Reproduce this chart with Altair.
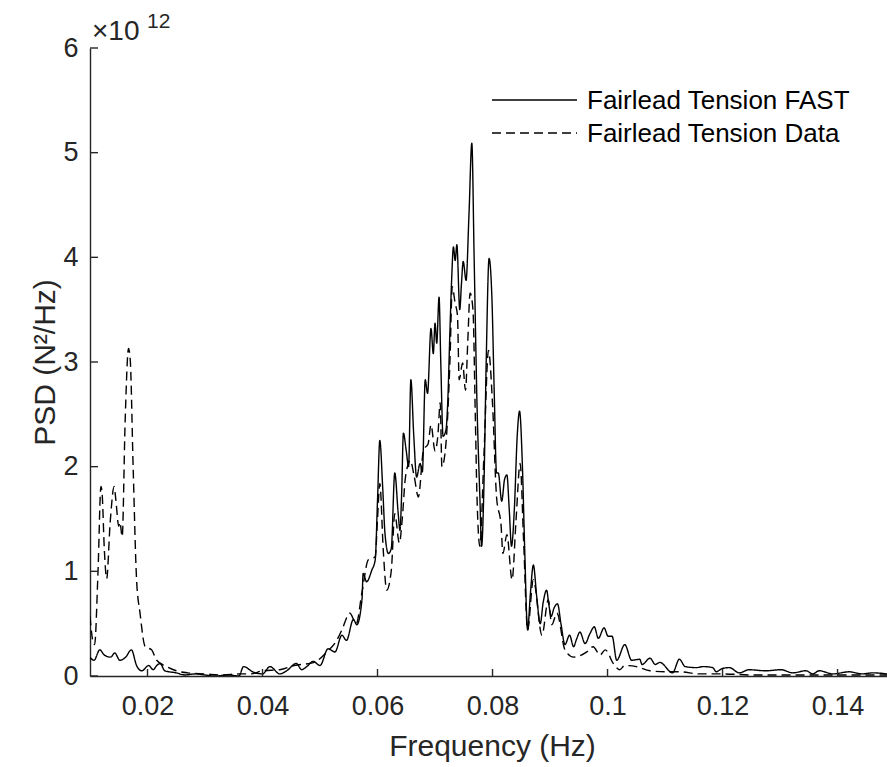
import altair as alt
import pandas as pd

# ---- data (PSD values in units of 1e12 N^2/Hz) ----
fast_f = [0.0100, 0.0107, 0.0117, 0.0125, 0.0136, 0.0143, 0.0152, 0.0162, 0.0172, 0.0181,
          0.0190, 0.0202, 0.0210, 0.0216, 0.0222, 0.0230, 0.0250, 0.0265, 0.0283, 0.0300,
          0.0318, 0.0340, 0.0359, 0.0367, 0.0383, 0.0400, 0.0413, 0.0430, 0.0442, 0.0459,
          0.0468, 0.0477, 0.0488, 0.0500, 0.0514, 0.0526, 0.0538, 0.0546, 0.0558, 0.0564,
          0.0573, 0.0575, 0.0581, 0.0590, 0.0596, 0.0600, 0.0604, 0.0609, 0.0613, 0.0619,
          0.0624, 0.0630, 0.0636, 0.0639, 0.0642, 0.0645, 0.0650, 0.0654, 0.0658, 0.0663,
          0.0668, 0.0674, 0.0678, 0.0683, 0.0687, 0.0693, 0.0697, 0.0700, 0.0703, 0.0707,
          0.0710, 0.0714, 0.0719, 0.0722, 0.0726, 0.0729, 0.0732, 0.0735, 0.0738, 0.0743,
          0.0746, 0.0749, 0.0754, 0.0759, 0.0764, 0.0768, 0.0773, 0.0778, 0.0781, 0.0785,
          0.0789, 0.0794, 0.0799, 0.0803, 0.0807, 0.0810, 0.0816, 0.0821, 0.0825, 0.0829,
          0.0833, 0.0838, 0.0843, 0.0847, 0.0852, 0.0856, 0.0861, 0.0866, 0.0871, 0.0877,
          0.0883, 0.0888, 0.0894, 0.0898, 0.0902, 0.0907, 0.0913, 0.0919, 0.0926, 0.0934,
          0.0941, 0.0946, 0.0952, 0.0961, 0.0969, 0.0977, 0.0984, 0.0994, 0.1001, 0.1008,
          0.1016, 0.1030, 0.1042, 0.1056, 0.1060, 0.1074, 0.1083, 0.1091, 0.1113, 0.1125,
          0.1135, 0.1155, 0.1166, 0.1183, 0.1189, 0.1199, 0.1212, 0.1229, 0.1246, 0.1275,
          0.1302, 0.1322, 0.1345, 0.1357, 0.1368, 0.1392, 0.1420, 0.1443, 0.1461, 0.1486]
fast_v = [0.18, 0.15, 0.25, 0.20, 0.18, 0.22, 0.15, 0.18, 0.25, 0.10,
          0.05, 0.10, 0.06, 0.10, 0.12, 0.05, 0.03, 0.01, 0.02, 0.01,
          0.00, 0.01, 0.00, 0.09, 0.04, 0.02, 0.09, 0.02, 0.05, 0.12,
          0.06, 0.09, 0.14, 0.10, 0.26, 0.23, 0.39, 0.34, 0.54, 0.49,
          0.73, 0.98, 0.90, 1.01, 1.11, 1.68, 2.25, 1.80, 1.36, 1.17,
          1.22, 1.94, 1.55, 1.39, 1.75, 2.32, 2.15, 2.00, 2.83, 2.30,
          1.90, 2.03, 1.95, 2.83, 2.70, 3.32, 3.08, 3.37, 3.18, 3.62,
          3.00, 2.29, 2.35, 2.60, 3.31, 3.80, 4.10, 3.97, 4.12, 3.50,
          3.75, 3.96, 3.78, 4.40, 5.09, 4.00, 2.60, 1.71, 1.24, 1.80,
          3.00, 3.99, 3.60, 2.70, 1.94, 1.94, 1.67, 1.88, 1.92, 1.60,
          1.24, 1.60, 2.30, 2.53, 2.00, 1.20, 0.44, 0.80, 1.06, 0.75,
          0.50, 0.70, 0.82, 0.68, 0.57, 0.65, 0.69, 0.50, 0.30, 0.39,
          0.28, 0.35, 0.42, 0.31, 0.40, 0.47, 0.36, 0.46, 0.38, 0.38,
          0.15, 0.30, 0.15, 0.16, 0.11, 0.17, 0.11, 0.13, 0.03, 0.16,
          0.09, 0.08, 0.09, 0.08, 0.04, 0.07, 0.08, 0.03, 0.06, 0.05,
          0.06, 0.03, 0.05, 0.02, 0.05, 0.02, 0.04, 0.02, 0.03, 0.02]

data_f = [0.0100, 0.0106, 0.0108, 0.0114, 0.0119, 0.0121, 0.0125, 0.0129, 0.0135, 0.0142,
          0.0145, 0.0150, 0.0152, 0.0156, 0.0161, 0.0167, 0.0170, 0.0175, 0.0181, 0.0187,
          0.0196, 0.0207, 0.0216, 0.0233, 0.0250, 0.0270, 0.0300, 0.0330, 0.0360, 0.0380,
          0.0400, 0.0430, 0.0455, 0.0490, 0.0510, 0.0529, 0.0538, 0.0552, 0.0563, 0.0573,
          0.0584, 0.0596, 0.0600, 0.0604, 0.0610, 0.0616, 0.0624, 0.0630, 0.0638, 0.0643,
          0.0648, 0.0652, 0.0657, 0.0664, 0.0671, 0.0680, 0.0688, 0.0693, 0.0700, 0.0705,
          0.0709, 0.0712, 0.0719, 0.0726, 0.0730, 0.0735, 0.0739, 0.0742, 0.0748, 0.0753,
          0.0757, 0.0761, 0.0766, 0.0770, 0.0773, 0.0778, 0.0785, 0.0793, 0.0800, 0.0807,
          0.0815, 0.0818, 0.0825, 0.0834, 0.0841, 0.0848, 0.0854, 0.0861, 0.0871, 0.0886,
          0.0897, 0.0903, 0.0912, 0.0926, 0.0941, 0.0964, 0.0975, 0.0987, 0.0996, 0.1010,
          0.1021, 0.1030, 0.1050, 0.1074, 0.1103, 0.1125, 0.1160, 0.1200, 0.1250, 0.1300,
          0.1350, 0.1400, 0.1486]
data_v = [0.57, 0.31, 0.30, 1.01, 1.81, 1.75, 1.20, 0.93, 1.46, 1.81,
          1.68, 1.43, 1.47, 1.33, 2.41, 3.13, 3.02, 2.00, 0.92, 0.60,
          0.28, 0.25, 0.15, 0.09, 0.05, 0.03, 0.02, 0.01, 0.02, 0.02,
          0.05, 0.06, 0.10, 0.13, 0.22, 0.34, 0.44, 0.60, 0.50, 0.80,
          1.11, 1.14, 1.50, 1.84, 1.20, 0.82, 1.01, 1.55, 1.27, 1.50,
          1.87, 2.00, 2.06, 1.90, 1.71, 2.16, 2.22, 2.40, 2.15, 2.30,
          2.61, 2.00, 2.22, 3.02, 3.72, 3.56, 3.45, 2.83, 2.99, 2.73,
          3.20, 3.66, 3.50, 2.50, 1.71, 1.24, 2.10, 3.11, 2.60, 1.71,
          1.43, 1.17, 1.35, 0.92, 1.50, 2.03, 1.30, 0.44, 0.92, 0.39,
          0.73, 0.49, 0.60, 0.25, 0.18, 0.23, 0.28, 0.20, 0.25, 0.12,
          0.06, 0.10, 0.09, 0.05, 0.04, 0.04, 0.02, 0.02, 0.01, 0.01,
          0.01, 0.01, 0.01]

series_names = ["Fairlead Tension FAST", "Fairlead Tension Data"]
x_ticks = [0.02, 0.04, 0.06, 0.08, 0.10, 0.12, 0.14]
y_ticks = [0, 1, 2, 3, 4, 5, 6]

# ---- layout ----
W, H = 797, 628
INK = "#262626"
FONT = "Liberation Sans"
X_DOMAIN = [0.01, 0.1486]
Y_DOMAIN = [0, 6]

df = pd.concat([
    pd.DataFrame({"f": fast_f, "v": fast_v, "s": series_names[0]}),
    pd.DataFrame({"f": data_f, "v": data_v, "s": series_names[1]}),
])

xscale = alt.Scale(domain=X_DOMAIN, nice=False, zero=False)
yscale = alt.Scale(domain=Y_DOMAIN, nice=False)
xaxis = alt.Axis(values=x_ticks, format=".2~f", title="Frequency (Hz)",
                 titleX=402, titleY=79, titleBaseline="alphabetic",
                 titleAlign="center", titleFontSize=30, titleFontWeight="normal",
                 labelPadding=17)
yaxis = alt.Axis(values=y_ticks, format="d", title="PSD (N²/Hz)",
                 titleX=-36, titleY=314, titleAngle=-90, titleBaseline="alphabetic",
                 titleAlign="center", titleFontSize=30, titleFontWeight="normal",
                 labelPadding=12)

lines = alt.Chart(df).mark_line(color="black", strokeWidth=1.4, clip=True,
                                interpolate="monotone").encode(
    x=alt.X("f:Q", scale=xscale, axis=xaxis),
    y=alt.Y("v:Q", scale=yscale, axis=yaxis),
    strokeDash=alt.StrokeDash("s:N", scale=alt.Scale(domain=series_names,
                                                     range=[[1, 0], [9, 5]]), legend=None),
    detail="s:N",
)

xt = alt.Chart(pd.DataFrame({"f": x_ticks})).mark_rule(color=INK, strokeWidth=1.4).encode(
    x=alt.X("f:Q", scale=xscale, axis=xaxis), y=alt.value(H), y2=alt.value(H - 7))
yt = alt.Chart(pd.DataFrame({"v": y_ticks})).mark_rule(color=INK, strokeWidth=1.4).encode(
    y=alt.Y("v:Q", scale=yscale, axis=yaxis), x=alt.value(0), x2=alt.value(8))

one = pd.DataFrame({"a": [0]})
leg_solid = alt.Chart(one).mark_rule(color="black", strokeWidth=1.4).encode(
    x=alt.value(402), x2=alt.value(487), y=alt.value(52))
leg_dash = alt.Chart(one).mark_rule(color="black", strokeWidth=1.4, strokeDash=[9, 5]).encode(
    x=alt.value(402), x2=alt.value(487), y=alt.value(85))
leg_t1 = alt.Chart(one).mark_text(align="left", baseline="alphabetic", font=FONT,
                                  fontSize=26, color="black").encode(
    x=alt.value(497), y=alt.value(60.5), text=alt.value(series_names[0]))
leg_t2 = alt.Chart(one).mark_text(align="left", baseline="alphabetic", font=FONT,
                                  fontSize=26, color="black").encode(
    x=alt.value(497), y=alt.value(93.5), text=alt.value(series_names[1]))

exp_a = alt.Chart(one).mark_text(align="left", baseline="alphabetic", font=FONT,
                                 fontSize=28, color=INK).encode(
    x=alt.value(2), y=alt.value(-8), text=alt.value("×10"))
exp_b = alt.Chart(one).mark_text(align="left", baseline="alphabetic", font=FONT,
                                 fontSize=21, color=INK).encode(
    x=alt.value(57), y=alt.value(-20), text=alt.value("12"))

chart = alt.layer(lines, xt, yt, leg_solid, leg_dash, leg_t1, leg_t2, exp_a, exp_b).properties(
    width=W, height=H,
    autosize=alt.AutoSizeParams(type="none"),
    padding={"left": 90, "top": 48, "right": 0, "bottom": 91},
    background="white",
).configure_view(stroke=None).configure_axis(
    grid=False, ticks=False, domainColor=INK, domainWidth=1.4,
    labelFont=FONT, labelFontSize=27, labelColor=INK,
    titleFont=FONT, titleColor=INK,
)

chart.save("out.html", embed_options={"renderer": "svg", "actions": False})
